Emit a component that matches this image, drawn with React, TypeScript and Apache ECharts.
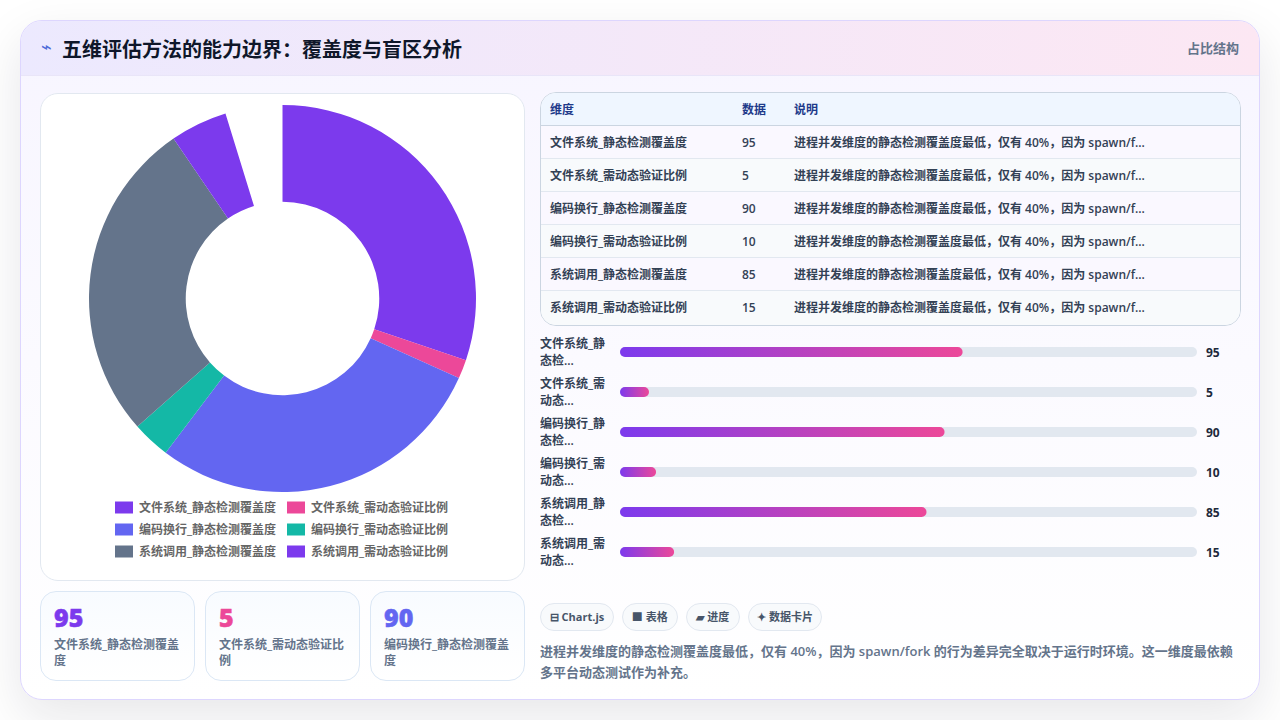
import { useEffect, useRef } from "react";
import * as echarts from "echarts";

const fontStack = '"Open Sans", "Noto Sans CJK SC", sans-serif';

const categories = [
  "文件系统_静态检测覆盖度",
  "文件系统_需动态验证比例",
  "编码换行_静态检测覆盖度",
  "编码换行_需动态验证比例",
  "系统调用_静态检测覆盖度",
  "系统调用_需动态验证比例",
];
const values = [95, 5, 90, 10, 85, 15];
const sliceColors = ["#7c3aed", "#ec4899", "#6366f1", "#14b8a6", "#64748b", "#7c3aed"];
// the ring in the picture stops short of closing: an unlabelled blank share of about 15
const blankShare = 15;
const tableHeaders = ["维度", "数据", "说明"];
const note = "进程并发维度的静态检测覆盖度最低，仅有 40%，因为 spawn/f...";
const chips = ["⊟ Chart.js", "■ 表格", "▰ 进度", "✦ 数据卡片"];
const chipWidths = [74, 55.5, 54.5, 74];
const cardColors = ["#7c3aed", "#ec4899", "#6366f1"];
const summary =
  "进程并发维度的静态检测覆盖度最低，仅有 40%，因为 spawn/fork 的行为差异完全取决于运行时环境。这一维度最依赖多平台动态测试作为补充。";

const useChart = (build: () => echarts.EChartsOption) => {
  const ref = useRef<HTMLDivElement | null>(null);
  useEffect(() => {
    if (!ref.current) return;
    const chart = echarts.init(ref.current, undefined, { renderer: "svg" });
    chart.setOption(build());
    return () => chart.dispose();
  }, []);
  return ref;
};

const pieOption = (): echarts.EChartsOption => ({
  animation: false,
  textStyle: { fontFamily: fontStack },
  legend: {
    data: categories,
    left: 69,
    top: 402,
    width: 350,
    itemWidth: 18,
    itemHeight: 12,
    itemGap: 9,
    icon: "rect",
    textStyle: { fontSize: 12, fontWeight: 600, color: "#666666", padding: [0, 0, 0, 1], lineHeight: 13, width: 139 },
  },
  series: [
    {
      type: "pie",
      center: [241.5, 204.5],
      radius: [96.75, 193.5],
      startAngle: 90,
      silent: true,
      label: { show: false },
      labelLine: { show: false },
      data: [
        ...categories.map((name, i) => ({ name, value: values[i], itemStyle: { color: sliceColors[i] } })),
        { name: "", value: blankShare, itemStyle: { color: "transparent" } },
      ],
    },
  ],
});

const barOption = (): echarts.EChartsOption => ({
  animation: false,
  textStyle: { fontFamily: fontStack },
  grid: { left: 80, right: 43, top: 0, bottom: 0, outerBoundsMode: "none" },
  xAxis: { type: "value", min: 0, max: 160, show: false },
  yAxis: [
    {
      type: "category",
      inverse: true,
      data: categories,
      axisLine: { show: false },
      axisTick: { show: false },
      axisLabel: {
        align: "left",
        margin: 80,
        fontSize: 12,
        fontWeight: 600,
        lineHeight: 17,
        padding: [2, 0, 0, 0],
        color: "#334155",
        formatter: (name: string) => `${name.slice(0, 6)}\n${name.slice(6, 8)}...`,
      },
    },
    {
      type: "category",
      inverse: true,
      position: "right",
      data: values.map(String),
      axisLine: { show: false },
      axisTick: { show: false },
      axisLabel: { align: "left", margin: 9, fontSize: 12, fontWeight: 700, color: "#1e293b" },
    },
  ],
  series: [
    {
      type: "bar",
      data: values,
      barWidth: 10,
      barMinHeight: 29,
      showBackground: true,
      backgroundStyle: { color: "#e2e8f0", borderRadius: 5 },
      itemStyle: {
        borderRadius: 5,
        color: new echarts.graphic.LinearGradient(0, 0, 1, 0, [
          { offset: 0, color: "#7c3aed" },
          { offset: 1, color: "#ec4899" },
        ]),
      },
    },
  ],
});

export default function App() {
  const pieRef = useChart(pieOption);
  const barRef = useChart(barOption);

  return (
    <div style={{ position: "relative", width: 1280, height: 720, overflow: "hidden", fontFamily: fontStack, background: "#ffffff" }}>
      <style>{`body{margin:0}`}</style>
      <div style={{ position: "absolute", left: 20, top: 20, width: 1238, height: 678, borderRadius: 22, border: "1px solid #ddd6fe", background: "linear-gradient(180deg, #f7f5ff, #ffffff)", boxShadow: "0 18px 50px rgba(15,23,42,0.10)", overflow: "hidden" }}>
        <div style={{ position: "absolute", left: 0, top: 0, width: 1238, height: 55, background: "linear-gradient(90deg, #ece9fe, #fce7f3)", borderBottom: "1px solid #e9e5f8", boxSizing: "border-box" }}>
          <span style={{ position: "absolute", left: 20, top: 11, fontSize: 18, lineHeight: "28px", color: "#4f6bd8" }}>⌁</span>
          <span style={{ position: "absolute", left: 41, top: 15, fontSize: 20, lineHeight: "28px", fontWeight: 700, color: "#0f172a" }}>五维评估方法的能力边界：覆盖度与盲区分析</span>
          <span style={{ position: "absolute", right: 20, top: 18, fontSize: 13, lineHeight: "18px", fontWeight: 700, color: "#64748b" }}>占比结构</span>
        </div>

        <div style={{ position: "absolute", left: 19, top: 72, width: 483, height: 486, borderRadius: 18, border: "1px solid #e2e8f0", background: "#ffffff" }}>
          <div ref={pieRef} style={{ width: 483, height: 486 }} />
        </div>

        {categories.slice(0, 3).map((name, i) => (
          <div key={name} style={{ position: "absolute", left: 19 + i * 165, top: 570, width: 153, height: 88, borderRadius: 16, border: "1px solid #dbe7f5", background: "linear-gradient(180deg, #f8fbff, #ffffff)" }}>
            <div style={{ position: "absolute", left: 13, top: 9, fontSize: 25, lineHeight: "32px", fontWeight: 800, color: cardColors[i], WebkitTextStroke: `0.5px ${cardColors[i]}` }}>{values[i]}</div>
            <div style={{ position: "absolute", left: 13, top: 45, width: 128, fontSize: 12, lineHeight: "16px", fontWeight: 600, color: "#64748b" }}>{name}</div>
          </div>
        ))}

        <div style={{ position: "absolute", left: 519, top: 71, width: 699, height: 232, borderRadius: 16, border: "1px solid #cbd5e1", background: "#ffffff", overflow: "hidden" }}>
          <div style={{ position: "relative", height: 33, background: "#eff6ff", borderBottom: "1px solid #cbd5e1", boxSizing: "border-box", fontSize: 12, lineHeight: "33px", fontWeight: 700, color: "#1e3a8a" }}>
            <span style={{ position: "absolute", left: 9 }}>{tableHeaders[0]}</span>
            <span style={{ position: "absolute", left: 201 }}>{tableHeaders[1]}</span>
            <span style={{ position: "absolute", left: 253 }}>{tableHeaders[2]}</span>
          </div>
          {categories.map((name, i) => (
            <div key={name} style={{ position: "relative", height: i < 5 ? 33 : 34, background: i % 2 ? "#f8fafc" : "#faf8ff", borderBottom: i < 5 ? "1px solid #e2e8f0" : "none", boxSizing: "border-box", fontSize: 12, lineHeight: i < 5 ? "33px" : "34px", fontWeight: 600, color: "#334155" }}>
              <span style={{ position: "absolute", left: 9 }}>{name}</span>
              <span style={{ position: "absolute", left: 201 }}>{values[i]}</span>
              <span style={{ position: "absolute", left: 253 }}>{note}</span>
            </div>
          ))}
        </div>

        <div ref={barRef} style={{ position: "absolute", left: 519, top: 311, width: 700, height: 240 }} />

        <div style={{ position: "absolute", left: 519, top: 582, display: "flex", gap: 8 }}>
          {chips.map((chip, i) => (
            <span key={chip} style={{ width: chipWidths[i], height: 28, lineHeight: "26px", textAlign: "center", whiteSpace: "nowrap", boxSizing: "border-box", borderRadius: 14, border: "1px solid #e2e8f0", background: "#f8fafc", fontSize: 11, fontWeight: 700, color: "#475569" }}>{chip}</span>
          ))}
        </div>

        <div style={{ position: "absolute", left: 519, top: 620, width: 700, fontSize: 13, lineHeight: "20.8px", fontWeight: 600, color: "#64748b" }}>{summary}</div>
      </div>
    </div>
  );
}
